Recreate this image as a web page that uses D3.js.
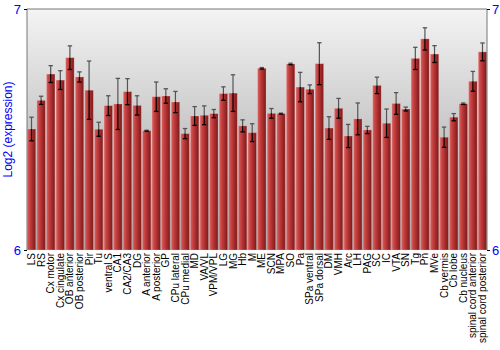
<!DOCTYPE html>
<html><head><meta charset="utf-8">
<script src="https://cdn.jsdelivr.net/npm/d3@7"></script>
<style>body{margin:0;background:#fff}svg{display:block}</style>
</head><body>
<svg id="chart" width="500" height="350"></svg>
<script>
const categories = ["LS","RS","Cx motor","Cx cingulate","OB anterior","OB posterior","Pir","Tu","ventral S","CA1","CA2/CA3","DG","A anterior","A posterior","GP","CPu lateral","CPu medial","MD","VA/VL","VPM/VPL","LG","MG","Hb","M","ME","SCN","MPA","SO","Pa","SPa ventral","SPa dorsal","DM","VMH","Arc","LH","PAG","SC","IC","VTA","SN","Tg","Pn","MVe","Cb vermis","Cb lobe","Cb nucleus","spinal cord anterior","spinal cord posterior"];
const values = [6.502,6.621,6.730,6.705,6.798,6.718,6.663,6.501,6.599,6.606,6.657,6.600,6.495,6.636,6.639,6.614,6.483,6.556,6.559,6.566,6.649,6.651,6.515,6.487,6.754,6.567,6.566,6.772,6.676,6.667,6.773,6.506,6.588,6.473,6.544,6.498,6.683,6.526,6.608,6.585,6.795,6.876,6.813,6.468,6.551,6.607,6.700,6.822];
const errors = [0.049,0.017,0.035,0.039,0.049,0.021,0.121,0.029,0.041,0.106,0.054,0.040,0.002,0.061,0.030,0.044,0.021,0.039,0.039,0.017,0.028,0.076,0.025,0.037,0.003,0.020,0.002,0.003,0.061,0.018,0.087,0.047,0.041,0.048,0.066,0.015,0.034,0.059,0.045,0.008,0.046,0.046,0.035,0.042,0.015,0.003,0.041,0.037];
const yTicks = [6,7];

const svg = d3.select("#chart");
const L = 27, R = 487, T = 9, B = 250;
const x = d3.scaleBand().domain(categories).range([L, R]).paddingInner(0.12).paddingOuter(0.03);
const y = d3.scaleLinear().domain([6,7]).range([B, T]);

const defs = svg.append("defs");
const bg = defs.append("linearGradient").attr("id","bg").attr("x1",0).attr("y1",0).attr("x2",0).attr("y2",1);
bg.append("stop").attr("offset","0%").attr("stop-color","#f4f4f4");
bg.append("stop").attr("offset","100%").attr("stop-color","#9c9c9c");
const bar = defs.append("linearGradient").attr("id","bar").attr("x1",0).attr("y1",0).attr("x2",1).attr("y2",0);
bar.append("stop").attr("offset","0%").attr("stop-color","#d86260");
bar.append("stop").attr("offset","35%").attr("stop-color","#c23c3c");
bar.append("stop").attr("offset","100%").attr("stop-color","#7c1818");

svg.append("rect").attr("x",L).attr("y",T).attr("width",R-L).attr("height",B-T).attr("fill","url(#bg)");

const g = svg.append("g");
g.selectAll("rect.bar").data(categories).join("rect").attr("class","bar")
  .attr("x", d => x(d)).attr("width", x.bandwidth())
  .attr("y", (d,i) => y(values[i])).attr("height", (d,i) => B - y(values[i]))
  .attr("fill","url(#bar)").attr("stroke","rgba(255,200,200,0.35)").attr("stroke-width",0.8);

// error bars: upper part gray, lower part black
const eb = g.selectAll("g.eb").data(categories).join("g").attr("class","eb")
  .attr("transform", d => `translate(${x(d)+x.bandwidth()/2},0)`);
eb.append("line").attr("y1",(d,i)=>y(values[i]+errors[i])).attr("y2",(d,i)=>y(values[i]))
  .attr("stroke","#555").attr("stroke-width",1.2);
eb.append("line").attr("y1",(d,i)=>y(values[i])).attr("y2",(d,i)=>y(values[i]-errors[i]))
  .attr("stroke","#000").attr("stroke-width",1.2);
eb.append("line").attr("x1",-2.2).attr("x2",2.2).attr("y1",(d,i)=>y(values[i]+errors[i])).attr("y2",(d,i)=>y(values[i]+errors[i]))
  .attr("stroke","#555").attr("stroke-width",1.3);
eb.append("line").attr("x1",-2.2).attr("x2",2.2).attr("y1",(d,i)=>y(values[i]-errors[i])).attr("y2",(d,i)=>y(values[i]-errors[i]))
  .attr("stroke","#000").attr("stroke-width",1.3);

// frame lines
svg.append("line").attr("x1",L).attr("x2",R).attr("y1",T).attr("y2",T).attr("stroke","#777").attr("stroke-width",1);
svg.append("line").attr("x1",L).attr("x2",L).attr("y1",T).attr("y2",B).attr("stroke","#777").attr("stroke-width",1);
svg.append("line").attr("x1",R).attr("x2",R).attr("y1",T).attr("y2",B).attr("stroke","#777").attr("stroke-width",1);

// y axes
const yl = svg.append("g").attr("transform",`translate(${L},0)`)
  .call(d3.axisLeft(y).tickValues(yTicks).tickFormat(d3.format("d")).tickSize(3).tickPadding(3));
const yr = svg.append("g").attr("transform",`translate(${R},0)`)
  .call(d3.axisRight(y).tickValues(yTicks).tickFormat(d3.format("d")).tickSize(3).tickPadding(2));
[yl,yr].forEach(a => {
  a.select(".domain").remove();
  a.selectAll(".tick line").attr("stroke","#000");
  a.selectAll("text").attr("fill","#0000ff").style("font-family","Liberation Sans, Arial, sans-serif").style("font-size","13px");
});

// x labels
const xa = svg.append("g").attr("transform",`translate(0,${B})`)
  .call(d3.axisBottom(x).tickSize(0).tickPadding(3));
xa.select(".domain").remove();
xa.selectAll("text")
  .style("font-family","Liberation Sans, Arial, sans-serif").style("font-size","10px").attr("fill","#000")
  .attr("transform","rotate(-90)").attr("text-anchor","end").attr("dy","0.35em").attr("x",-3).attr("y",0);

svg.append("text").attr("transform",`translate(12,${(T+B)/2}) rotate(-90)`)
  .attr("text-anchor","middle").attr("fill","#0000ff")
  .style("font-family","Liberation Sans, Arial, sans-serif").style("font-size","12px")
  .text("Log2 (expression)");
</script>
</body></html>
